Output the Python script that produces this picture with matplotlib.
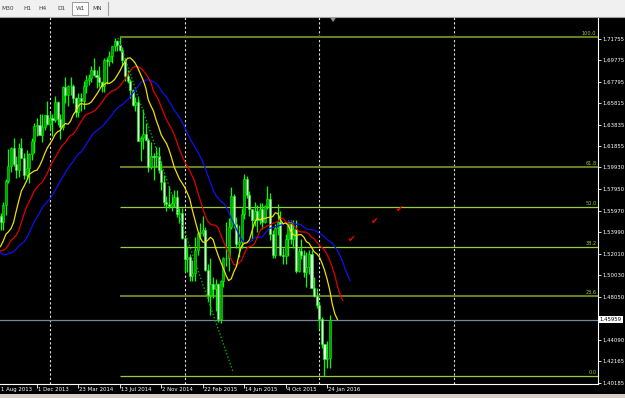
import numpy as np
import pandas as pd
import matplotlib
matplotlib.use('Agg')
import matplotlib.pyplot as plt
from matplotlib.patches import Rectangle, Polygon
from matplotlib.lines import Line2D

# weekly candles, week 0 = 11 Aug 2013; the first 12 weeks are only warm-up for the alligator
week0 = -12
opens = [1.5235, 1.5175, 1.5195, 1.5525, 1.5650, 1.5420, 1.5210, 1.4885, 1.5100, 1.5260, 1.5375, 1.5330,
         1.5500, 1.5565, 1.5550, 1.5495, 1.5650, 1.5870, 1.6010, 1.6170, 1.6025, 1.5970,
         1.6170, 1.6080, 1.5920, 1.5990, 1.6120, 1.6235, 1.6375, 1.6380, 1.6290, 1.6360,
         1.6470, 1.6390, 1.6450, 1.6430, 1.6590, 1.6440, 1.6360, 1.6735, 1.6655, 1.6745,
         1.6740, 1.6630, 1.6500, 1.6635, 1.6600, 1.6745, 1.6800, 1.6815, 1.6885, 1.6845,
         1.6820, 1.6780, 1.6745, 1.6980, 1.6970, 1.7015, 1.7110, 1.7150, 1.7115, 1.7075,
         1.6975, 1.6830, 1.6790, 1.6700, 1.6565, 1.6595, 1.6235, 1.6260, 1.6300, 1.6245,
         1.6000, 1.6100, 1.6090, 1.6095, 1.5970, 1.5860, 1.5675, 1.5655, 1.5640, 1.5670,
         1.5720, 1.5570, 1.5580, 1.5345, 1.5155, 1.5170, 1.4995, 1.5025, 1.5235, 1.5395,
         1.5395, 1.5420, 1.5055, 1.4820, 1.4920, 1.4880, 1.4920, 1.4600, 1.4955, 1.5160,
         1.5160, 1.5450, 1.5730, 1.5470, 1.5290, 1.5310, 1.5570, 1.5890, 1.5745, 1.5610,
         1.5510, 1.5595, 1.5510, 1.5610, 1.5495, 1.5640, 1.5700, 1.5380, 1.5190, 1.5435,
         1.5495, 1.5190, 1.5185, 1.5335, 1.5490, 1.5340, 1.5425, 1.5045, 1.5230, 1.5190,
         1.5035, 1.5080, 1.5200, 1.4890, 1.4815, 1.4735, 1.4605, 1.4375, 1.4235, 1.4245]
highs = [1.5240, 1.5240, 1.5530, 1.5710, 1.5750, 1.5490, 1.5350, 1.5180, 1.5290, 1.5490, 1.5420, 1.5550,
         1.5610, 1.5715, 1.5580, 1.5680, 1.5890, 1.6160, 1.6180, 1.6260, 1.6100, 1.6220,
         1.6260, 1.6130, 1.6150, 1.6130, 1.6260, 1.6400, 1.6450, 1.6485, 1.6480, 1.6470,
         1.6600, 1.6500, 1.6480, 1.6650, 1.6600, 1.6480, 1.6740, 1.6820, 1.6750, 1.6825,
         1.6760, 1.6640, 1.6680, 1.6680, 1.6790, 1.6840, 1.6855, 1.6925, 1.6995, 1.6885,
         1.6925, 1.6790, 1.6995, 1.7010, 1.7065, 1.7110, 1.7180, 1.7165, 1.7190, 1.7095,
         1.7000, 1.6890, 1.6805, 1.6715, 1.6640, 1.6645, 1.6280, 1.6525, 1.6400, 1.6265,
         1.6225, 1.6125, 1.6185, 1.6185, 1.6050, 1.5920, 1.5735, 1.5825, 1.5750, 1.5785,
         1.5785, 1.5620, 1.5620, 1.5350, 1.5270, 1.5195, 1.5140, 1.5355, 1.5405, 1.5485,
         1.5550, 1.5450, 1.5110, 1.5165, 1.4990, 1.4970, 1.4935, 1.4960, 1.5170, 1.5490,
         1.5525, 1.5815, 1.5750, 1.5540, 1.5465, 1.5620, 1.5930, 1.5915, 1.5780, 1.5615,
         1.5675, 1.5650, 1.5670, 1.5670, 1.5650, 1.5820, 1.5760, 1.5420, 1.5475, 1.5660,
         1.5590, 1.5250, 1.5385, 1.5510, 1.5510, 1.5510, 1.5510, 1.5255, 1.5335, 1.5235,
         1.5215, 1.5240, 1.5240, 1.4985, 1.4890, 1.4755, 1.4625, 1.4375, 1.4405, 1.4640]
lows = [1.5010, 1.5040, 1.5160, 1.5510, 1.5400, 1.5180, 1.4860, 1.4810, 1.5050, 1.5250, 1.5100, 1.5180,
        1.5420, 1.5520, 1.5420, 1.5420, 1.5560, 1.5850, 1.5950, 1.6010, 1.5895, 1.5905,
        1.6080, 1.5890, 1.5900, 1.5855, 1.6060, 1.6130, 1.6280, 1.6290, 1.6230, 1.6340,
        1.6380, 1.6340, 1.6280, 1.6410, 1.6380, 1.6250, 1.6340, 1.6580, 1.6560, 1.6655,
        1.6580, 1.6460, 1.6460, 1.6510, 1.6530, 1.6680, 1.6750, 1.6780, 1.6830, 1.6725,
        1.6735, 1.6690, 1.6690, 1.6760, 1.6920, 1.6950, 1.7060, 1.7060, 1.7060, 1.6925,
        1.6785, 1.6770, 1.6630, 1.6560, 1.6515, 1.6235, 1.6050, 1.6165, 1.6235, 1.5950,
        1.5980, 1.5875, 1.5995, 1.5940, 1.5790, 1.5640, 1.5590, 1.5625, 1.5590, 1.5630,
        1.5535, 1.5485, 1.5335, 1.5035, 1.5035, 1.4950, 1.4950, 1.4950, 1.5190, 1.5335,
        1.5360, 1.5045, 1.4760, 1.4640, 1.4795, 1.4680, 1.4580, 1.4565, 1.4900, 1.5090,
        1.5045, 1.5430, 1.5440, 1.5250, 1.5170, 1.5250, 1.5520, 1.5710, 1.5545, 1.5330,
        1.5460, 1.5400, 1.5470, 1.5425, 1.5485, 1.5615, 1.5330, 1.5160, 1.5165, 1.5375,
        1.5185, 1.5105, 1.5105, 1.5185, 1.5290, 1.5255, 1.5025, 1.5030, 1.5150, 1.4990,
        1.4895, 1.5020, 1.4890, 1.4805, 1.4700, 1.4510, 1.4335, 1.4080, 1.4155, 1.4150]
closes = [1.5175, 1.5195, 1.5525, 1.5650, 1.5420, 1.5210, 1.4885, 1.5100, 1.5260, 1.5375, 1.5330, 1.5500,
          1.5565, 1.5550, 1.5495, 1.5650, 1.5870, 1.6010, 1.6170, 1.6025, 1.5970, 1.6170,
          1.6080, 1.5920, 1.5990, 1.6120, 1.6235, 1.6375, 1.6380, 1.6290, 1.6360, 1.6470,
          1.6390, 1.6450, 1.6430, 1.6590, 1.6440, 1.6360, 1.6735, 1.6655, 1.6745, 1.6740,
          1.6630, 1.6500, 1.6635, 1.6600, 1.6745, 1.6800, 1.6815, 1.6885, 1.6845, 1.6820,
          1.6780, 1.6745, 1.6980, 1.6970, 1.7015, 1.7110, 1.7150, 1.7115, 1.7075, 1.6975,
          1.6830, 1.6790, 1.6700, 1.6565, 1.6595, 1.6235, 1.6260, 1.6300, 1.6245, 1.6000,
          1.6100, 1.6090, 1.6095, 1.5970, 1.5860, 1.5675, 1.5655, 1.5640, 1.5670, 1.5720,
          1.5570, 1.5580, 1.5345, 1.5155, 1.5170, 1.4995, 1.5025, 1.5235, 1.5395, 1.5395,
          1.5420, 1.5055, 1.4820, 1.4920, 1.4880, 1.4920, 1.4600, 1.4955, 1.5160, 1.5160,
          1.5450, 1.5730, 1.5470, 1.5290, 1.5310, 1.5570, 1.5890, 1.5745, 1.5610, 1.5510,
          1.5595, 1.5510, 1.5610, 1.5495, 1.5640, 1.5700, 1.5380, 1.5190, 1.5435, 1.5495,
          1.5190, 1.5185, 1.5335, 1.5490, 1.5340, 1.5425, 1.5045, 1.5230, 1.5190, 1.5035,
          1.5080, 1.5200, 1.4890, 1.4815, 1.4735, 1.4605, 1.4375, 1.4235, 1.4245, 1.4596]

tick_weeks = [0, 16, 32, 48, 64, 80, 96, 112, 128]
tick_labels = ['1 Aug 2013', '1 Dec 2013', '23 Mar 2014', '13 Jul 2014', '2 Nov 2014',
               '22 Feb 2015', '14 Jun 2015', '4 Oct 2015', '24 Jan 2016']
price_ticks = [1.71755, 1.69775, 1.67795, 1.65815, 1.63835, 1.61855, 1.59930, 1.57950,
               1.55970, 1.53990, 1.52010, 1.50030, 1.48050, 1.44090, 1.42165, 1.40185]
separator_weeks = [21, 73, 125, 177]   # year starts

fib_start_week = 48
fib_high = 1.7190
fib_low = 1.4080
fib_levels = [100.0, 61.8, 50.0, 38.2, 23.6, 0.0]
bid = 1.45959

trend_weeks = [47.3, 91.7]
trend_prices = [1.7181, 1.4117]
check_weeks = [137.6, 146.5, 156.2]
check_prices = [1.5328, 1.5493, 1.5603]

timeframes = ['M30', 'H1', 'H4', 'D1', 'W1', 'MN']
tf_x = [7.5, 27, 42.5, 61.5, 80, 97.5]

W, H = 625, 398
fig = plt.figure(figsize=(W / 100, H / 100), dpi=100, facecolor='black')


def fx(px):
    return px / W


def fy(py):
    return 1 - py / H


ax = fig.add_axes([0, fy(384), fx(598), (384 - 17) / H])
ax.set_facecolor('black')

o, h, l, c = map(np.array, (opens, highs, lows, closes))
weeks = np.arange(week0, week0 + len(o))
up = c >= o
lo_body = np.minimum(o, c)
body = np.maximum(np.abs(c - o), 0.0004)

ax.vlines(weeks, l, h, color='#00ff00', lw=0.9, zorder=2)
ax.bar(weeks[up], body[up], bottom=lo_body[up], width=0.8, color='#00a000',
       edgecolor='#00ff00', lw=0.4, zorder=3)
ax.bar(weeks[~up], body[~up], bottom=lo_body[~up], width=0.8, color='#e8ffe8',
       edgecolor='#00ff00', lw=0.4, zorder=3)

# alligator: smoothed MA of median price, shifted forward
median = pd.Series((h + l) / 2)
jaw = median.ewm(alpha=1 / 13, adjust=False).mean()
teeth = median.ewm(alpha=1 / 8, adjust=False).mean()
lips = median.ewm(alpha=1 / 5, adjust=False).mean()
ax.plot(weeks + 8, jaw, color='#1010f0', lw=0.9, zorder=4)
ax.plot(weeks + 5, teeth, color='#e00000', lw=0.9, zorder=4)
ax.plot(weeks + 3, lips, color='#f0e000', lw=0.9, zorder=4)

xmin, xmax = 1.737, 232.6
ax.set_xlim(xmin, xmax)
ax.set_ylim(1.40067, 1.73735)

for w in separator_weeks:
    ax.axvline(w, color='#e0e0e0', lw=0.8, ls=(0, (2, 2)), zorder=1)

ax.axhline(bid, color='#778899', lw=0.9, zorder=1)

for lev in fib_levels:
    p = fib_low + (fib_high - fib_low) * lev / 100
    dark = lev in (100.0, 61.8, 23.6)
    ax.hlines(p, fib_start_week, xmax, color='#6b7d22' if dark else '#9acd32',
              lw=1.5 if dark else 0.9, zorder=1)
    ax.text(xmax - 0.6, p + 0.0006, f'{lev:.1f}', ha='right', va='bottom',
            fontsize=3.6, color='#9acd32', zorder=5)

ax.plot(trend_weeks, trend_prices, color='#00b000', lw=1.0, ls=(0, (1, 1.5)), zorder=4)

for w, p in zip(check_weeks, check_prices):
    ax.text(w, p, '\u2714', color='#ff0000', fontsize=6.5, ha='center', va='center', zorder=5)

# axes frame and ticks
for s in ('top', 'left'):
    ax.spines[s].set_visible(False)
for s in ('right', 'bottom'):
    ax.spines[s].set_color('white')
    ax.spines[s].set_linewidth(0.8)

ax.yaxis.tick_right()
ax.set_yticks(price_ticks)
ax.set_yticklabels([f'{p:.5f}' for p in price_ticks])
ax.tick_params(axis='y', colors='white', length=2, width=0.6, labelsize=3.9, pad=1.5)

ax.set_xticks([w for w in tick_weeks if w > xmin])
ax.set_xticklabels([])
ax.tick_params(axis='x', colors='white', length=3, width=0.6)
for w, lab in zip(tick_weeks, tick_labels):
    x = max(w + 0.4, xmin + 0.2)
    ax.text(x, -0.0085, lab, transform=ax.get_xaxis_transform(), ha='left', va='top',
            fontsize=3.9, color='white', clip_on=False)

ax.text(1.003, bid, f'{bid:.5f}', transform=ax.get_yaxis_transform(), ha='left', va='center',
        fontsize=3.9, color='black', clip_on=False,
        bbox=dict(boxstyle='square,pad=0.2', fc='white', ec='none'))

# terminal toolbar on top and strip at the bottom
fig.patches.append(Rectangle((0, fy(17)), 1, 17 / H, transform=fig.transFigure,
                             fc='#f0f0f0', ec='none'))
fig.lines.append(Line2D([0, 1], [fy(16.5), fy(16.5)], transform=fig.transFigure,
                        color='#a0a0a0', lw=0.8))
fig.patches.append(Rectangle((fx(72), fy(15)), 16 / W, 13 / H, transform=fig.transFigure,
                             fc='white', ec='#8c8c8c', lw=0.6))
fig.lines.append(Line2D([fx(108), fx(108)], [fy(2), fy(15)], transform=fig.transFigure,
                        color='#a0a0a0', lw=0.8))
for name, x in zip(timeframes, tf_x):
    fig.text(fx(x), fy(8.5), name, ha='center', va='center', fontsize=4.2, color='#404040')

fig.patches.append(Polygon([(fx(330), fy(17.5)), (fx(336), fy(17.5)), (fx(333), fy(22))],
                           closed=True, transform=fig.transFigure, fc='#909090', ec='none'))
fig.patches.append(Rectangle((0, 0), 1, 4 / H, transform=fig.transFigure,
                             fc='#d4d0c8', ec='none'))

fig.savefig('out.png', dpi=100, facecolor='black')
